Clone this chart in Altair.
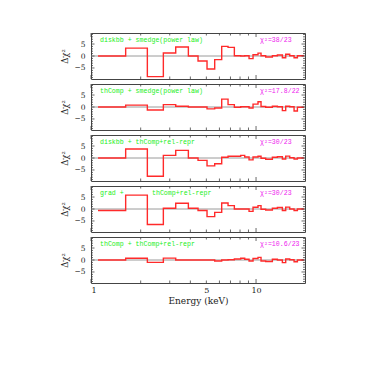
import altair as alt
import pandas as pd

# bin edges (keV)
edges = [1.103, 1.622, 2.195, 2.744, 3.261, 3.890, 4.452, 5.047, 5.617, 6.194,
         6.767, 7.390, 8.074, 8.539, 9.071, 9.590, 10.28, 10.72, 11.44, 12.56,
         13.47, 14.44, 15.13, 16.00, 17.00, 17.81, 19.54]

res1 = [0.0, 3.3, -8.6, 1.25, 3.75, 0.0, -2.1, -5.4, -1.5, 4.0, 3.6, 0.1, 0.0,
        0.1, -1.1, 0.5, 1.2, 0.1, -0.4, 0.1, 0.4, -0.7, 0.7, 0.1, -0.7, 0.1]
res2 = [0.0, 0.8, -1.25, 1.0, 0.3, 0.0, 0.0, -0.8, -0.4, 3.3, 1.0, -0.1, 0.1,
        0.1, -0.4, 1.2, 2.2, 0.2, -0.1, 0.3, 0.1, -1.5, 0.3, 0.1, -1.7, -0.1]
res3 = [0.0, 3.75, -7.6, 1.1, 3.2, 0.0, -1.0, -3.3, -2.4, 0.3, 0.7, 0.7, 1.1,
        0.4, -0.8, 0.4, 0.7, -0.1, -0.5, 0.3, 0.5, -0.4, 0.8, 0.1, -0.4, 0.0]
res4 = [-0.6, 5.8, -6.5, 0.3, 2.4, 0.3, -0.6, -3.2, -1.4, 2.5, 1.4, 0.0, 0.0,
        0.0, -1.0, 0.7, 1.4, -0.1, -0.4, 0.3, 0.6, -0.6, 0.8, 0.0, -0.6, 0.0]
res5 = [0.0, 0.7, -1.0, 0.8, 0.0, 0.0, 0.0, 0.0, -0.4, 0.0, 0.1, 0.4, 0.7,
        0.3, -0.4, 0.6, 1.1, -0.4, -0.6, 0.3, 0.0, -1.1, 0.4, 0.1, -0.7, 0.0]
residuals = [res1, res2, res3, res4, res5]

models = ["diskbb + smedge(power law)", "thComp + smedge(power law)",
          "diskbb + thComp+rel-repr", "grad +", "thComp + thComp+rel-repr"]
models_extra = ["", "", "", "thComp+rel-repr", ""]
chi2 = ["χ²=38/23", "χ²=17.8/22", "χ²=30/23", "χ²=30/23", "χ²=10.6/23"]

x_major_ticks = [1, 10]
x_minor_ticks = [2, 3, 4, 5, 6, 7, 8, 9]
x_labels = [1, 5, 10]
y_major_ticks = [-5, 0, 5]
y_minor_ticks = [-9, -8, -7, -6, -4, -3, -2, -1, 1, 2, 3, 4, 6, 7, 8, 9]

W, H = 214, 46
SERIF = "DejaVu Serif"
MONO = "Liberation Mono"
GREEN = "#22ee22"
MAGENTA = "#ee22ee"
RED = "#ff2a2a"
FRAME = "#444444"

xscale = alt.Scale(type="log", domain=[1, 19.8], nice=False)
yscale = alt.Scale(domain=[-9.6, 9.6], nice=False)

yaxis = alt.Axis(values=y_major_ticks, ticks=False, domain=False, grid=False,
                 labelFont=SERIF, labelFontSize=7.5, labelColor="#222",
                 labelPadding=6, title="Δχ²", titleFont=SERIF, titleFontSize=8.5,
                 titleFontWeight="normal", titleColor="#222", titlePadding=4)
xaxis_bottom = alt.Axis(values=x_labels, format="~g", ticks=False, domain=False,
                        grid=False, labelFont=SERIF, labelFontSize=8,
                        labelColor="#222", labelPadding=3,
                        title="Energy (keV)", titleFont=SERIF, titleFontSize=9,
                        titleFontWeight="normal", titleColor="#222", titlePadding=2)


def panel(i, bottom):
    vals = residuals[i]
    xaxis = xaxis_bottom if bottom else None
    df = pd.DataFrame({"E": edges, "r": vals + [vals[-1]]})

    def X(field):
        return alt.X(field, scale=xscale, axis=xaxis)

    def Y(field):
        return alt.Y(field, scale=yscale, axis=yaxis)

    line = alt.Chart(df).mark_line(interpolate="step-after", color=RED,
                                   strokeWidth=1.4).encode(x=X("E:Q"), y=Y("r:Q"))

    zero = alt.Chart(pd.DataFrame({"z": [0]})).mark_rule(
        color="#9a9a9a", strokeWidth=1).encode(
        y=Y("z:Q"), x=alt.value(0), x2=alt.value(W))

    layers = [zero, line]

    def xt(vals_, length):
        d = pd.DataFrame({"t": vals_})
        top = alt.Chart(d).mark_rule(color=FRAME, strokeWidth=0.8).encode(
            x=X("t:Q"), y=alt.value(0), y2=alt.value(length))
        bot = alt.Chart(d).mark_rule(color=FRAME, strokeWidth=0.8).encode(
            x=X("t:Q"), y=alt.value(H), y2=alt.value(H - length))
        return [top, bot]

    def yt(vals_, length):
        d = pd.DataFrame({"v": vals_})
        left = alt.Chart(d).mark_rule(color=FRAME, strokeWidth=0.8).encode(
            y=Y("v:Q"), x=alt.value(0), x2=alt.value(length))
        right = alt.Chart(d).mark_rule(color=FRAME, strokeWidth=0.8).encode(
            y=Y("v:Q"), x=alt.value(W), x2=alt.value(W - length))
        return [left, right]

    layers += xt(x_major_ticks, 4) + xt(x_minor_ticks, 2.5)
    layers += yt(y_major_ticks, 3.5) + yt(y_minor_ticks, 2)

    lab = alt.Chart(pd.DataFrame({"s": [models[i]]})).mark_text(
        font=MONO, fontSize=6.6, color=GREEN, align="left", baseline="middle").encode(
        text="s:N", x=alt.value(9), y=alt.value(7))
    layers.append(lab)
    if models_extra[i]:
        lab2 = alt.Chart(pd.DataFrame({"s": [models_extra[i]]})).mark_text(
            font=MONO, fontSize=6.6, color=GREEN, align="left", baseline="middle").encode(
            text="s:N", x=alt.value(61), y=alt.value(7))
        layers.append(lab2)
    chi = alt.Chart(pd.DataFrame({"s": [chi2[i]]})).mark_text(
        font=MONO, fontSize=6.6, color=MAGENTA, align="left", baseline="middle").encode(
        text="s:N", x=alt.value(169), y=alt.value(7))
    layers.append(chi)

    return alt.layer(*layers).properties(width=W, height=H)


panels = [panel(i, i == 4) for i in range(5)]
chart = alt.vconcat(*panels, spacing=5, bounds="flush").properties(
    padding={"left": 52, "top": 24, "right": 5, "bottom": 5}
).configure_view(stroke=FRAME, strokeWidth=1).configure_axis(grid=False)

chart.save("out.html", embed_options={"renderer": "svg", "actions": False})
